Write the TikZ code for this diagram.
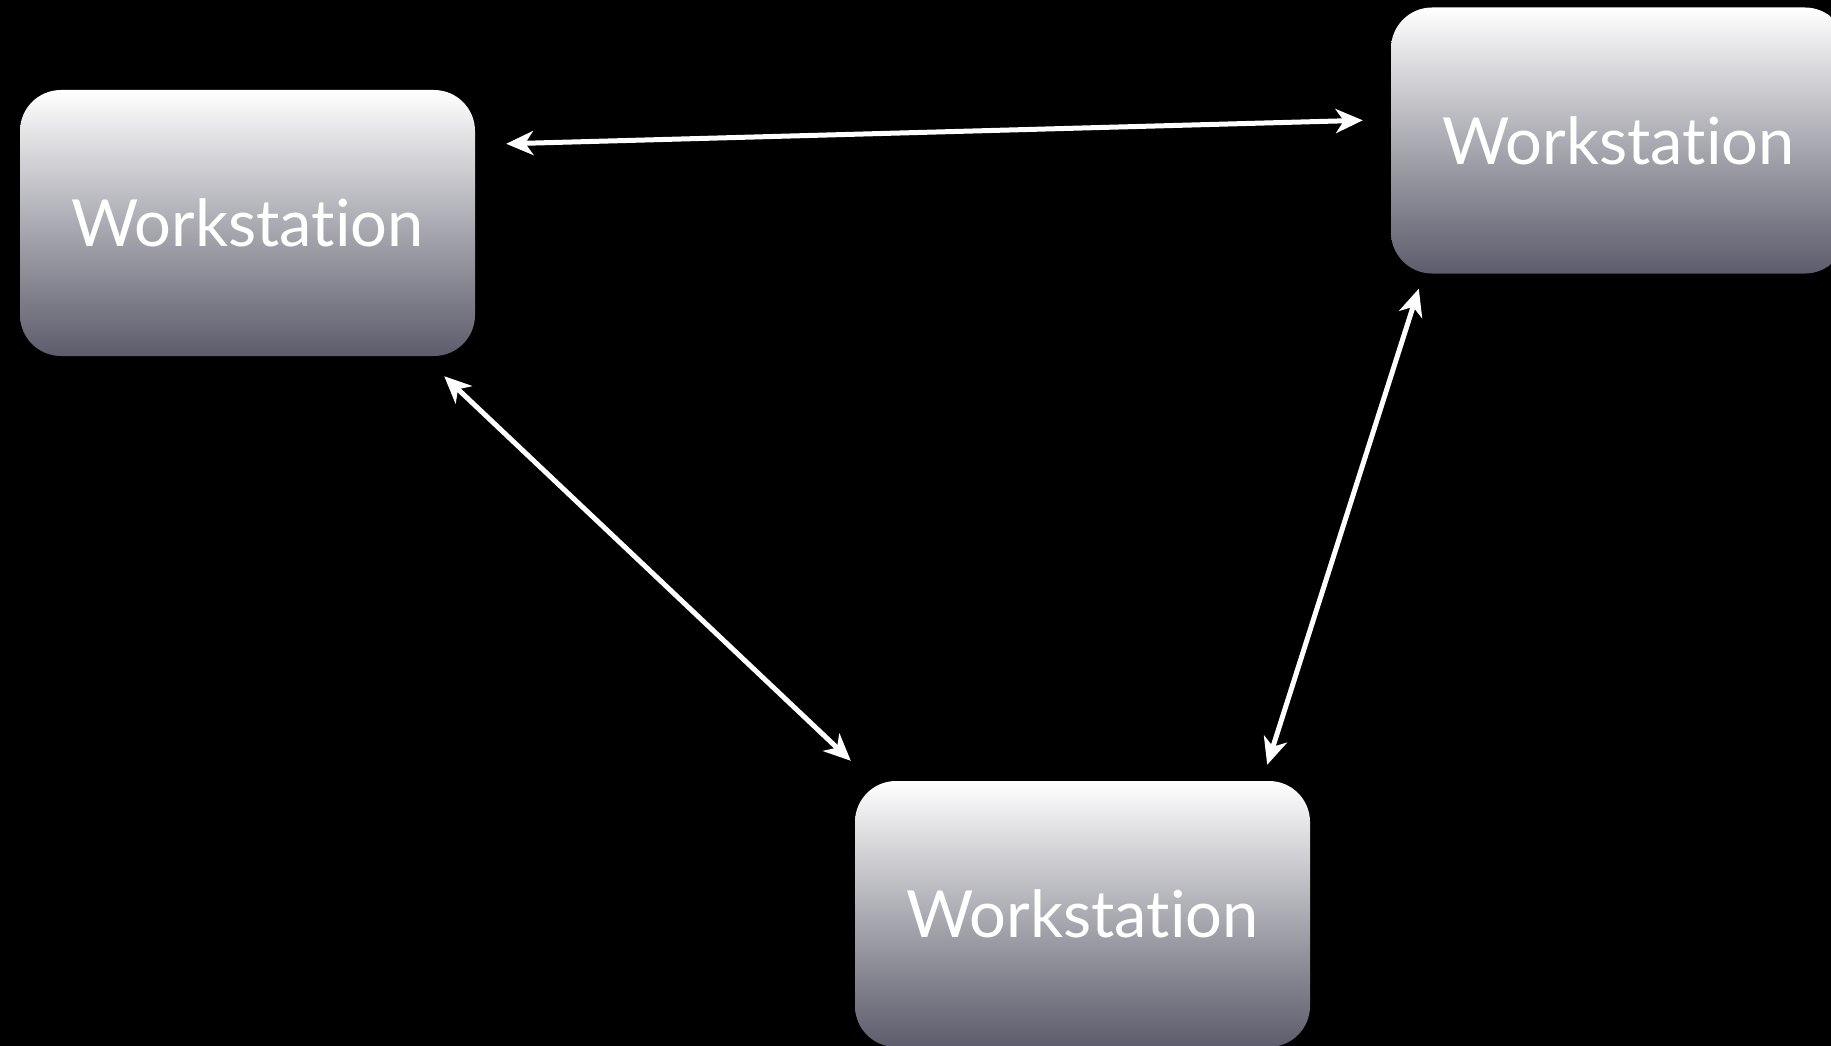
\documentclass[tikz,border=0pt]{standalone}
\usepackage{fontspec}
\setmainfont[Ligatures=NoCommon]{Lato}
\usetikzlibrary{arrows.meta}
\begin{document}
\begin{tikzpicture}[x=1pt,y=-1pt,
  station/.style={rounded corners=41pt, minimum width=455pt, minimum height=266pt,
    top color=white, bottom color=boxbottom, middle color=boxmid, inner sep=0pt,
    text=white, font=\fontsize{65}{70}\selectfont},
  link/.style={draw=white, line width=5pt,
    {Stealth[length=27pt,width=24pt,inset=8pt]}-{Stealth[length=27pt,width=24pt,inset=8pt]}}]
\definecolor{boxmid}{HTML}{ABABB3}
\definecolor{boxbottom}{HTML}{5C5C6C}
\fill[black] (0,0) rectangle (1831,1046);
\useasboundingbox (0,0) rectangle (1831,1046);
\clip (0,0) rectangle (1831,1046);

% the three workstations
\node[station] (w1) at (247.5,223) {Workstation};
\node[station] (w2) at (1618.5,140.5) {Workstation};
\node[station] (w3) at (1082.5,914) {Workstation};

% links between the stations
\draw[link] ([shift={(31,54)}]w1.north east) -- ([shift={(-28,113)}]w2.north west);
\draw[link] ([shift={(-31,20)}]w1.south east) -- ([shift={(-4,-20)}]w3.north west);
\draw[link] ([shift={(28,15)}]w2.south west) -- ([shift={(-43,-16)}]w3.north east);
\end{tikzpicture}
\end{document}
